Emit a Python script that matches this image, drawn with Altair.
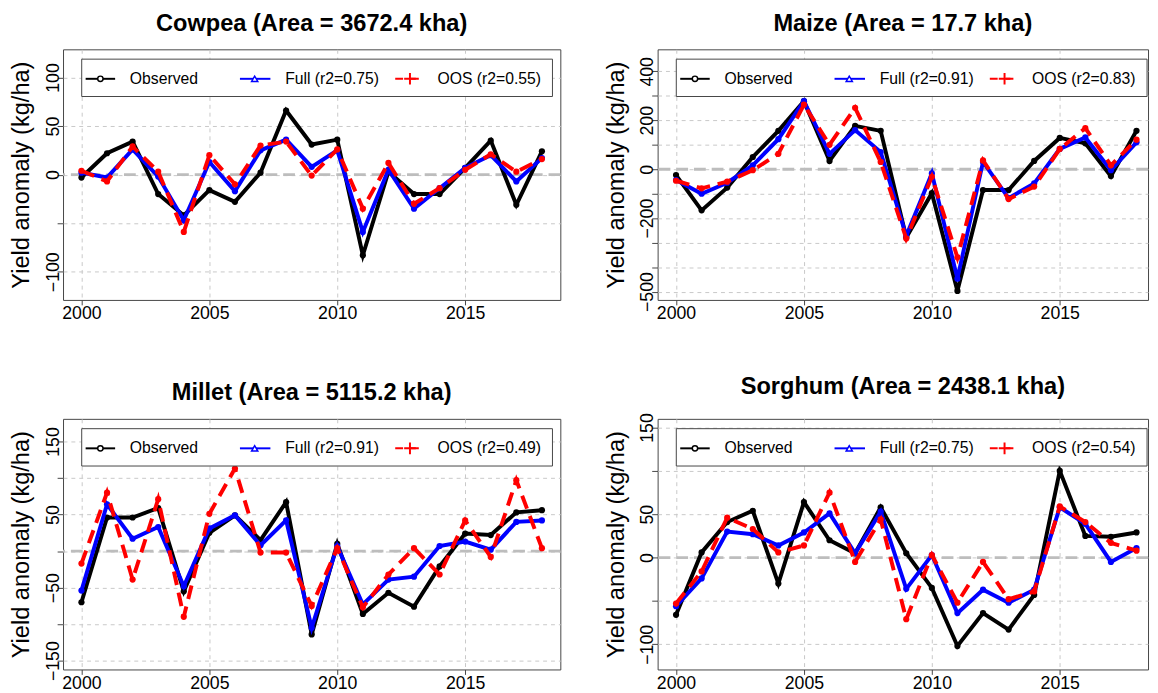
import altair as alt
import pandas as pd

FONT = "Liberation Sans"
GRID = "#c8c8c8"

years = list(range(2000, 2019))

# Cowpea
cowpea_obs = [-3, 22, 34, -20, -42, -16, -28, 2, 66, 31, 36, -83, 3, -20, -20, 7, 35, -31, 24]
cowpea_full = [2, -3, 26, -2, -47, 13, -17, 25, 36, 8, 25, -59, 5, -35, -14, 7, 20, -7, 17]
cowpea_oos = [4, -7, 29, 3, -59, 20, -10, 30, 34, -1, 26, -35, 12, -30, -14, 5, 21, 3, 16]

# Maize
maize_obs = [-24, -168, -75, 50, 157, 278, 34, 177, 157, -279, -98, -497, -85, -85, 34, 128, 106, -28, 157]
maize_full = [-44, -100, -55, 16, 123, 278, 63, 160, 70, -272, -17, -447, 30, -118, -58, 83, 130, -4, 110]
maize_oos = [-47, -78, -51, -4, 63, 264, 100, 251, 30, -283, -31, -360, 36, -122, -71, 83, 168, 16, 121]

# Millet
millet_obs = [-70, 46, 46, 59, -55, 25, 49, 15, 67, -114, 10, -86, -57, -76, -21, 24, 22, 53, 56]
millet_full = [-54, 64, 17, 33, -48, 31, 49, 8, 42, -105, 7, -73, -39, -35, 7, 13, 2, 40, 42]
millet_oos = [-17, 80, -39, 71, -90, 51, 113, -2, -2, -75, 4, -77, -32, 4, -32, 42, -8, 97, 4]

# Sorghum
sorghum_obs = [-66, 6, 41, 54, -30, 64, 20, 5, 58, 5, -35, -102, -64, -83, -43, 100, 25, 24, 29]
sorghum_full = [-56, -24, 30, 27, 14, 29, 51, 5, 53, -36, 3, -64, -37, -52, -37, 58, 39, -5, 11]
sorghum_oos = [-53, -16, 46, 33, 6, 14, 75, -5, 44, -71, 3, -52, -5, -48, -39, 59, 41, 17, 8]

titles = ["Cowpea (Area = 3672.4 kha)", "Maize (Area = 17.7 kha)",
          "Millet (Area = 5115.2 kha)", "Sorghum (Area = 2438.1 kha)"]
r2_full = ["0.75", "0.91", "0.91", "0.75"]
r2_oos = ["0.55", "0.83", "0.49", "0.54"]
y_domains = [[-129, 129], [-534, 490], [-162, 181], [-129, 160]]
y_grids = [[-100, -50, 0, 50, 100],
           [-500, -400, -300, -200, -100, 0, 100, 200, 300, 400],
           [-150, -100, -50, 0, 50, 100, 150],
           [-100, -50, 0, 50, 100, 150]]
y_labels = [[-100, 0, 50, 100], [-500, -200, 0, 200, 400],
            [-150, -50, 50, 150], [-100, 0, 50, 150]]
x_ticks = [2000, 2005, 2010, 2015]

PW = 506
PH = 255
PX = PW / 19.44


def panel(i, obs, full, oos, width):
    df = pd.DataFrame({"year": years, "obs": obs, "full": full, "oos": oos})
    xmax = 1999.28 + width / PX
    xs = alt.Scale(domain=[1999.28, xmax], nice=False, zero=False)
    ys = alt.Scale(domain=y_domains[i], nice=False, zero=False)
    expr = "indexof([" + ",".join(str(v) for v in y_labels[i]) + "], datum.value) >= 0 ? datum.label : ''"
    xaxis = alt.Axis(values=x_ticks, format="d", title=None, grid=True, gridDash=[4, 4],
                     gridColor=GRID, domain=False, tickColor="#444", tickSize=5,
                     labelFontSize=18, labelPadding=0, labelColor="black", labelFont=FONT)
    yaxis = alt.Axis(values=y_grids[i], labelExpr=expr, title="Yield anomaly (kg/ha)",
                     titleFontSize=24, titleFontWeight="normal", titleFont=FONT,
                     titleColor="black", titlePadding=11, grid=True, gridDash=[4, 4],
                     gridColor=GRID, domain=False, tickColor="#444", tickSize=6,
                     labelAngle=270, labelAlign="center", labelBaseline="alphabetic",
                     labelFontSize=18, labelPadding=-1, labelFont=FONT, labelColor="black")
    base = alt.Chart(df)
    one = pd.DataFrame({"k": [0]})

    zero = alt.Chart(pd.DataFrame({"z": [0]})).mark_rule(
        color="#bdbdbd", strokeWidth=3, strokeDash=[12, 6]
    ).encode(y=alt.Y("z:Q", scale=ys, axis=yaxis))

    layers = [zero]
    for col, color, dash in [("obs", "black", None), ("full", "#0000ff", None), ("oos", "#ff0000", [14, 8])]:
        kw = dict(color=color, strokeWidth=4)
        if dash:
            kw["strokeDash"] = dash
        enc_x = alt.X("year:Q", scale=xs, axis=xaxis)
        enc_y = alt.Y(f"{col}:Q", scale=ys, axis=yaxis)
        layers.append(base.mark_line(**kw).encode(x=enc_x, y=enc_y))
        layers.append(base.mark_circle(color=color, size=40, opacity=1).encode(x=enc_x, y=enc_y))

    # legend
    ly = 30
    leg = [
        alt.Chart(one).mark_rect(fill="white", stroke="#444", strokeWidth=1).encode(
            x=alt.value(19), x2=alt.value(498), y=alt.value(10), y2=alt.value(48)),
        alt.Chart(one).mark_rule(color="black", strokeWidth=2).encode(
            x=alt.value(23), x2=alt.value(53), y=alt.value(ly)),
        alt.Chart(one).mark_point(shape="circle", filled=True, fill="white", stroke="black",
                                  strokeWidth=1.5, size=30, opacity=1).encode(
            x=alt.value(38), y=alt.value(ly)),
        alt.Chart(one).mark_rule(color="#0000ff", strokeWidth=2).encode(
            x=alt.value(180), x2=alt.value(211), y=alt.value(ly)),
        alt.Chart(one).mark_point(shape="triangle-up", filled=True, fill="white", stroke="#0000ff",
                                  strokeWidth=1.5, size=40, opacity=1).encode(
            x=alt.value(195), y=alt.value(ly)),
        alt.Chart(one).mark_rule(color="#ff0000", strokeWidth=2, strokeDash=[8, 8]).encode(
            x=alt.value(338), x2=alt.value(368), y=alt.value(ly)),
        alt.Chart(one).mark_point(shape="M-1,0L1,0M0,-1L0,1", filled=False, stroke="#ff0000",
                                  strokeWidth=2, size=140, opacity=1).encode(
            x=alt.value(353), y=alt.value(ly)),
    ]
    for txt, xp in [("Observed", 68), (f"Full (r2={r2_full[i]})", 226), (f"OOS (r2={r2_oos[i]})", 381)]:
        leg.append(alt.Chart(one).mark_text(text=txt, align="left", baseline="middle", fontSize=16,
                                            font=FONT, color="black").encode(
            x=alt.value(xp), y=alt.value(ly)))
    layers += leg
    return alt.layer(*layers).properties(
        width=width, height=PH,
        title=alt.TitleParams(text=titles[i], fontSize=24, fontWeight="bold", font=FONT,
                              anchor="middle", frame="group", offset=14, color="black"),
    )


RW = 499
p1 = panel(0, cowpea_obs, cowpea_full, cowpea_oos, PW)
p2 = panel(1, maize_obs, maize_full, maize_oos, RW)
p3 = panel(2, millet_obs, millet_full, millet_oos, PW)
p4 = panel(3, sorghum_obs, sorghum_full, sorghum_oos, RW)

row1 = alt.hconcat(p1, p2, spacing=42)
row2 = alt.hconcat(p3, p4, spacing=42)
chart = alt.vconcat(row1, row2, spacing=52).properties(
    padding={"left": 1, "top": -3, "right": 0, "bottom": 0}
).configure_view(stroke="#444", strokeWidth=1)

chart.save("out.html", embed_options={"renderer": "svg", "actions": False})
